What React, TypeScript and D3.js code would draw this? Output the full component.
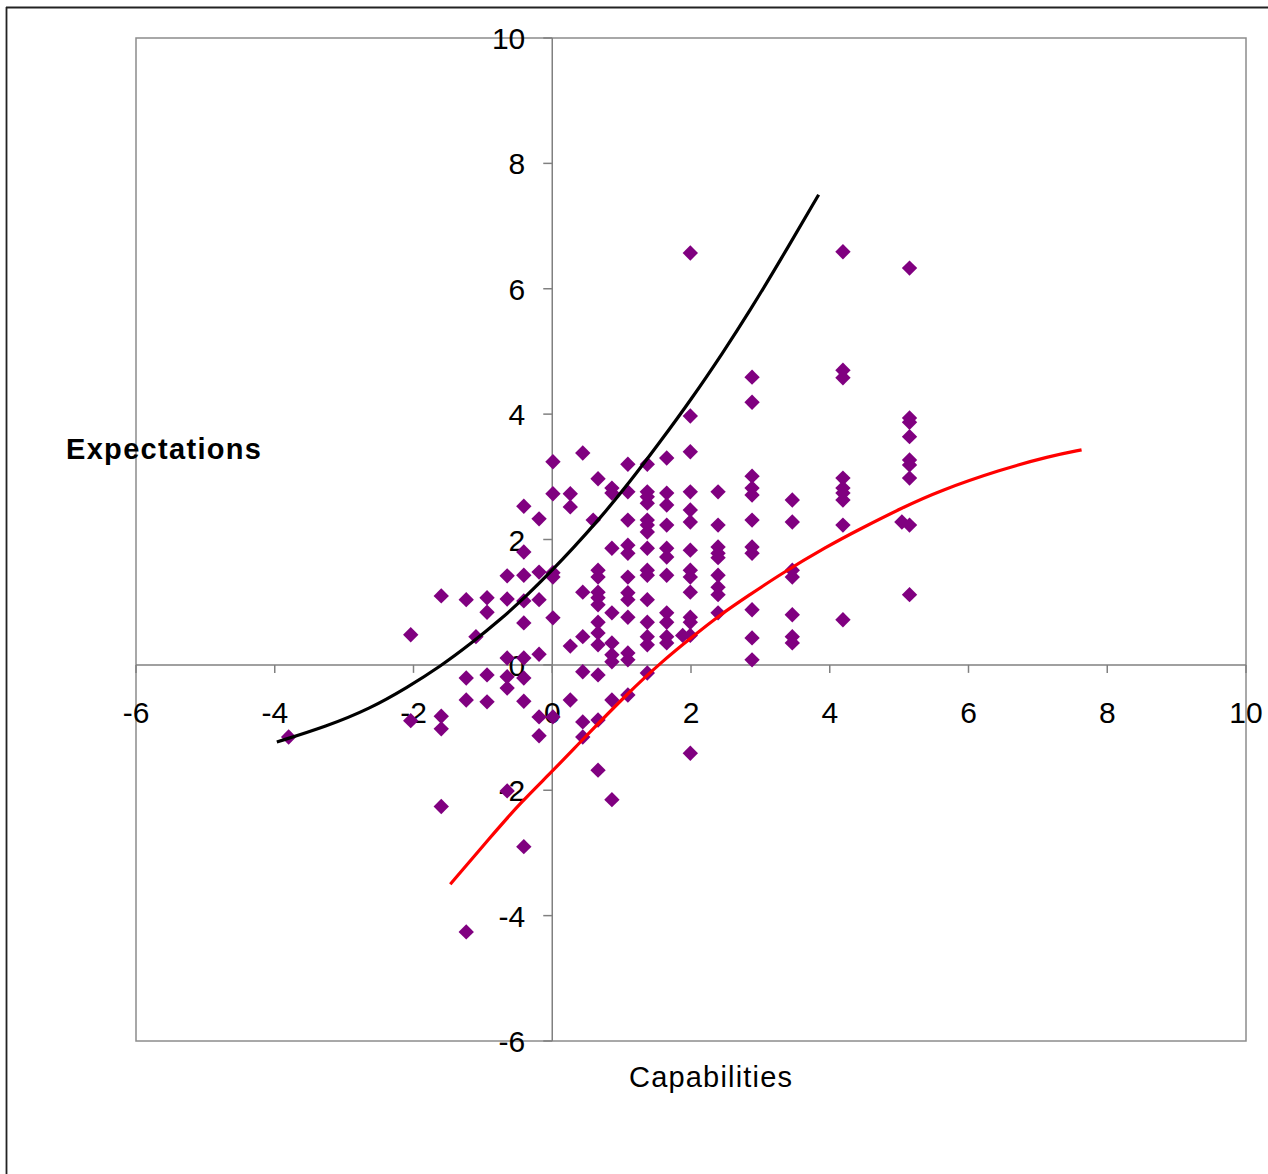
import React from 'react'
import * as d3 from 'd3'

// x positions of the point columns (capabilities) and the expectations at each
const columnX = [
  -3.8, -2.04, -1.6, -1.24, -1.1, -0.94, -0.65, -0.41, -0.19, 0.01, 0.26, 0.44, 0.59, 0.66,
  0.86, 1.09, 1.37, 1.65, 1.88, 1.99, 2.39, 2.88, 3.46, 4.19, 5.04, 5.15,
]
const columnY = [
  [-1.15],
  [0.48, -0.89],
  [1.1, -0.82, -1.02, -2.26],
  [1.04, -0.21, -0.56, -4.26],
  [0.45],
  [1.07, 0.84, -0.16, -0.59],
  [1.42, 1.05, 0.11, -0.19, -0.37, -2.01],
  [2.53, 1.8, 1.43, 1.02, 0.67, 0.11, -0.21, -0.58, -2.9],
  [2.33, 1.48, 1.04, 0.17, -0.83, -1.13],
  [3.24, 2.73, 1.47, 1.4, 0.75, -0.83],
  [2.73, 2.52, 0.3, -0.56],
  [3.38, 1.16, 0.45, -0.11, -0.91, -1.15],
  [2.31],
  [2.97, 1.51, 1.4, 1.16, 1.07, 0.96, 0.68, 0.51, 0.32, -0.16, -0.88, -1.68],
  [2.82, 2.74, 1.86, 0.83, 0.35, 0.16, 0.05, -0.56, -2.15],
  [3.2, 2.76, 2.31, 1.91, 1.78, 1.4, 1.15, 1.04, 0.76, 0.19, 0.08, -0.48],
  [3.2, 2.76, 2.68, 2.58, 2.31, 2.23, 2.12, 1.86, 1.51, 1.43, 1.04, 0.68, 0.45, 0.32, -0.13],
  [3.3, 2.74, 2.55, 2.23, 1.86, 1.72, 1.43, 0.83, 0.68, 0.45, 0.35],
  [0.47],
  [6.57, 3.97, 3.4, 2.76, 2.47, 2.28, 1.83, 1.51, 1.4, 1.16, 0.76, 0.68, 0.47, -1.41],
  [2.76, 2.23, 1.88, 1.78, 1.71, 1.43, 1.24, 1.12, 0.83],
  [4.59, 4.19, 3.01, 2.82, 2.71, 2.31, 1.88, 1.78, 0.88, 0.43, 0.08],
  [2.63, 2.28, 1.51, 1.4, 0.8, 0.45, 0.35],
  [6.59, 4.7, 4.58, 2.98, 2.82, 2.74, 2.63, 2.23, 0.72],
  [2.28],
  [6.33, 3.94, 3.87, 3.64, 3.27, 3.19, 2.98, 2.23, 1.12],
]

// upper (black) and lower (red) curves
const upperX = [-3.97, -3.25, -2.63, -2.09, -1.62, -1.16, -0.75, -0.36, 0, 0.3, 0.69, 1.12, 1.55, 2.0, 2.46, 2.85, 3.28, 3.84]
const upperY = [-1.23, -0.98, -0.7, -0.36, -0.03, 0.35, 0.72, 1.11, 1.51, 1.86, 2.34, 2.92, 3.55, 4.23, 4.98, 5.65, 6.44, 7.5]
const lowerX = [-1.47, -0.9, -0.46, 0, 0.43, 1.09, 1.6, 2.0, 2.42, 2.85, 3.28, 3.96, 4.44, 5.05, 5.59, 6.45, 7.17, 7.63]
const lowerY = [-3.5, -2.76, -2.2, -1.7, -1.2, -0.45, 0.07, 0.43, 0.8, 1.12, 1.44, 1.89, 2.17, 2.51, 2.78, 3.11, 3.33, 3.43]

const ticks = [-6, -4, -2, 0, 2, 4, 6, 8, 10]

const font = '"Liberation Sans", Arial, sans-serif'

export default function App() {
  const width = 1268,
    height = 1174

  // plot area
  const left = 136,
    right = 1246,
    top = 38,
    bottom = 1041

  const x = d3.scaleLinear().domain([-6, 10]).range([left, right])
  const y = d3.scaleLinear().domain([-6, 10]).range([bottom, top])

  const points = columnX.flatMap((cx, i) => columnY[i].map(cy => [cx, cy]))

  const line = d3
    .line<number[]>()
    .x(d => x(d[0]))
    .y(d => y(d[1]))
    .curve(d3.curveBasis)

  const upper = upperX.map((v, i) => [v, upperY[i]])
  const lower = lowerX.map((v, i) => [v, lowerY[i]])

  const diamond = d3.symbol().type(d3.symbolSquare).size(118)()

  const x0 = x(0),
    y0 = y(0)

  return (
    <svg
      width={width}
      height={height}
      style={{ position: 'absolute', left: 0, top: 0, display: 'block' }}
      fontFamily={font}
    >
      <rect width={width} height={height} fill="#fff" />
      {/* outer frame */}
      <line x1={6} x2={width} y1={7.5} y2={7.5} stroke="#222" strokeWidth={1.8} />
      <line x1={6.5} x2={6.5} y1={7} y2={height} stroke="#222" strokeWidth={1.8} />

      {/* plot area */}
      <rect x={left} y={top} width={right - left} height={bottom - top} fill="none" stroke="#8c8c8c" strokeWidth={1.5} />

      {/* axes */}
      <line x1={left} x2={right} y1={y0} y2={y0} stroke="#808080" strokeWidth={1.5} />
      <line x1={x0} x2={x0} y1={top} y2={bottom} stroke="#808080" strokeWidth={1.5} />

      {ticks.map(t => (
        <g key={'x' + t}>
          <line x1={x(t)} x2={x(t)} y1={y0} y2={y0 + 8} stroke="#808080" strokeWidth={1.5} />
          <text x={x(t)} y={y0 + 58} fontSize={30} textAnchor="middle" fill="#000">
            {t}
          </text>
        </g>
      ))}
      {ticks.map(t => (
        <g key={'y' + t}>
          <line x1={x0 - 9} x2={x0} y1={y(t)} y2={y(t)} stroke="#808080" strokeWidth={1.5} />
          <text x={x0 - 27} y={y(t) + 11} fontSize={30} textAnchor="end" fill="#000">
            {t}
          </text>
        </g>
      ))}

      {/* data points */}
      {points.map((p, i) => (
        <path key={i} d={diamond ?? ''} transform={`translate(${x(p[0])},${y(p[1])}) rotate(45)`} fill="#800080" />
      ))}

      <path d={line(upper) ?? ''} fill="none" stroke="#000" strokeWidth={3.2} />
      <path d={line(lower) ?? ''} fill="none" stroke="#ff0000" strokeWidth={3.2} />

      <text x={66} y={459} fontSize={29} fontWeight="bold" fill="#000" textLength={195} lengthAdjust="spacing">
        Expectations
      </text>
      <text x={629} y={1087} fontSize={29} fill="#000" textLength={163} lengthAdjust="spacing">
        Capabilities
      </text>
    </svg>
  )
}
